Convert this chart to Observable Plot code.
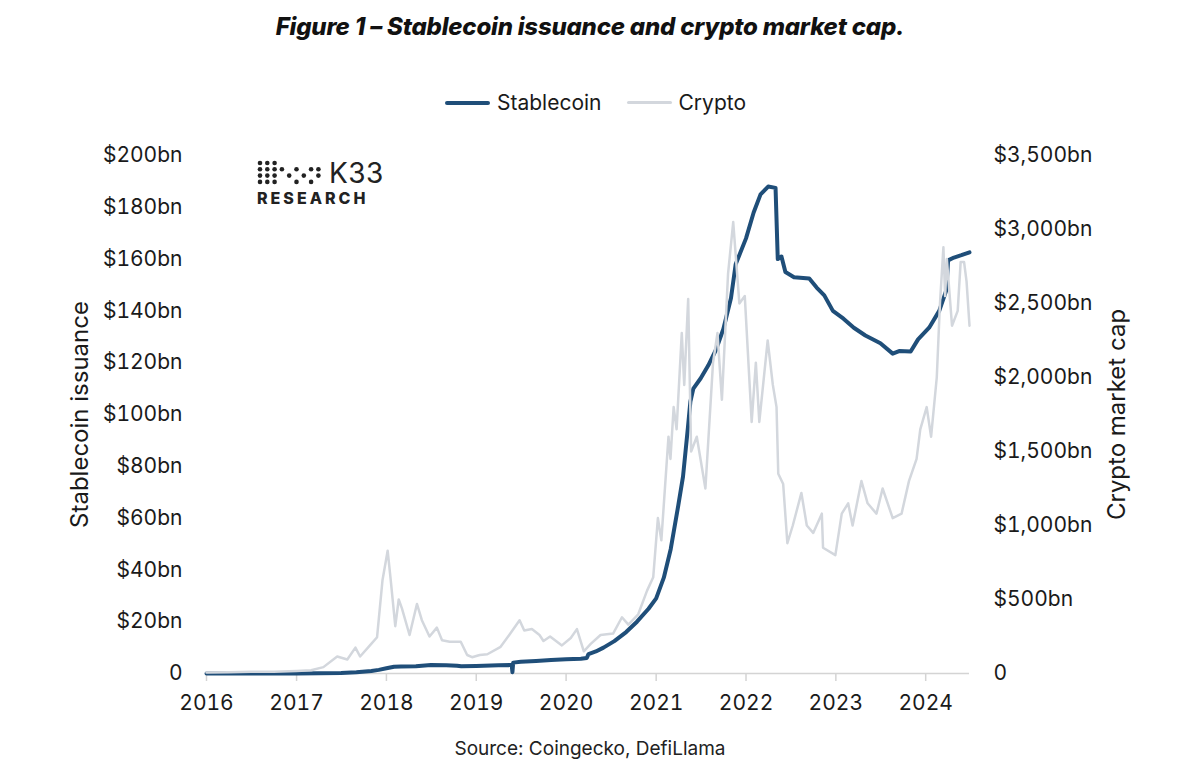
<!DOCTYPE html>
<html>
<head>
<meta charset="utf-8">
<script src="https://cdn.jsdelivr.net/npm/d3@7"></script>
<script src="https://cdn.jsdelivr.net/npm/@observablehq/plot@0.6"></script>
<style>
  html, body { margin: 0; padding: 0; background: #fff; }
  #wrap { position: relative; width: 1200px; height: 772px; font-family: Inter, "Open Sans", sans-serif; color: #1a1a1a; overflow: hidden; }
  #title { position: absolute; top: 12px; left: 0; width: 1180px; text-align: center; font-weight: 800; font-style: italic; font-size: 24px; letter-spacing: -0.2px; color: #111; }
  #legend { position: absolute; top: 90px; left: 445px; display: flex; align-items: center; font-size: 21px; }
  .sw { display: inline-block; width: 45px; margin-right: 7px; border-radius: 2px; }
  #chart { position: absolute; top: 130px; left: 0; }
  #source { position: absolute; top: 737px; left: 0; width: 1180px; text-align: center; font-size: 19px; color: #222; }
  #logo { position: absolute; top: 160px; left: 257px; }
  #logo .k33 { position: absolute; left: 72px; top: -4px; font-size: 28px; font-weight: 400; letter-spacing: 0.5px; color: #222; }
  #logo .res { position: absolute; left: 0; top: 28px; font-size: 16px; font-weight: 800; letter-spacing: 3px; color: #222; white-space: nowrap; }
</style>
</head>
<body>
<div id="wrap">
  <div id="title">Figure 1 – Stablecoin issuance and crypto market cap.</div>
  <div id="legend">
    <span class="sw" style="height:4px;background:#1f4e79"></span><span style="margin-right:25px">Stablecoin</span>
    <span class="sw" style="height:3px;background:#d3d7dd"></span><span>Crypto</span>
  </div>
  <div id="chart"></div>
  <div id="logo"><svg id="dots" width="68" height="26"></svg><span class="k33">K33</span><span class="res">RESEARCH</span></div>
  <div id="source">Source: Coingecko, DefiLlama</div>
</div>
<script>
// ---- Data (values in $bn) ----
const stableDates = [
  "2016-01-01","2016-06-01","2017-01-01","2017-04-01","2017-07-01","2017-09-01","2017-11-01","2017-12-01",
  "2018-01-01","2018-02-01","2018-03-01","2018-05-01","2018-07-01","2018-09-01","2018-10-15","2018-11-01",
  "2019-01-01","2019-04-01","2019-05-25","2019-05-28","2019-05-31","2019-07-01","2019-09-01","2019-11-01",
  "2020-01-01","2020-03-01","2020-03-25","2020-04-01","2020-05-01","2020-06-01","2020-07-15","2020-09-01",
  "2020-10-15","2020-12-01","2021-01-01","2021-02-01","2021-03-01","2021-04-01","2021-04-20","2021-05-10",
  "2021-05-20","2021-06-01","2021-07-01","2021-08-01","2021-09-01","2021-10-01","2021-11-01","2021-11-20",
  "2022-01-01","2022-02-01","2022-03-01","2022-04-01","2022-05-01","2022-05-10","2022-05-25","2022-06-10",
  "2022-07-15","2022-09-15","2022-10-15","2022-11-15","2022-12-20","2023-02-01","2023-03-15","2023-05-01",
  "2023-07-01","2023-08-20","2023-09-15","2023-11-01","2023-12-01","2024-01-15","2024-02-25","2024-03-25",
  "2024-04-01","2024-04-25","2024-05-25","2024-06-27"
];
const stableValues = [
  0.01,0.01,0.02,0.06,0.2,0.5,1.0,1.4,
  2.0,2.6,2.7,2.8,3.3,3.2,3.0,2.8,
  2.9,3.2,3.3,0.5,4.2,4.5,4.8,5.2,
  5.5,5.7,6.0,7.5,8.5,10,12.5,16,
  20,25,29,37,48,65,76,95,
  105,110,114,119,125,133,145,158,
  168,178,185,188,187.5,160,161,155,
  153,152.5,149,146,140,137,133.5,130.5,
  127.5,123.5,124.5,124.3,129,133.5,140,148,
  159.5,160.6,161.5,162.6
];
const cryptoDates = [
  "2016-01-01","2016-04-01","2016-07-01","2016-10-01","2017-01-01","2017-03-01","2017-04-20","2017-06-15",
  "2017-07-26","2017-08-28","2017-09-16","2017-10-26","2017-11-24","2017-12-16","2018-01-06","2018-01-18",
  "2018-02-06","2018-02-20","2018-03-05","2018-04-05","2018-05-05","2018-05-25","2018-06-25","2018-07-25",
  "2018-08-15","2018-09-15","2018-10-30","2018-11-25","2018-12-15","2019-01-15","2019-02-15","2019-04-10",
  "2019-05-15","2019-06-26","2019-07-15","2019-08-15","2019-09-15","2019-10-01","2019-10-28","2019-12-15",
  "2020-01-20","2020-02-14","2020-03-13","2020-04-10","2020-05-20","2020-07-10","2020-08-15","2020-09-10",
  "2020-10-20","2020-11-25","2020-12-20","2021-01-08","2021-01-22","2021-02-20","2021-02-28","2021-03-13",
  "2021-03-25","2021-04-15","2021-04-25","2021-05-11","2021-05-23","2021-06-15","2021-07-20","2021-08-20",
  "2021-09-07","2021-09-25","2021-10-20","2021-11-10","2021-12-05","2021-12-27","2022-01-24","2022-02-10",
  "2022-02-24","2022-03-30","2022-04-20","2022-05-05","2022-05-12","2022-06-01","2022-06-18","2022-07-10",
  "2022-08-14","2022-09-05","2022-10-01","2022-11-05","2022-11-10","2022-12-30","2023-01-25","2023-02-20",
  "2023-03-10","2023-04-15","2023-05-10","2023-06-15","2023-07-10","2023-08-20","2023-09-25","2023-10-25",
  "2023-11-25","2023-12-10","2024-01-05","2024-01-23","2024-02-15","2024-02-28","2024-03-13","2024-03-20",
  "2024-03-27","2024-04-17","2024-05-10","2024-05-22","2024-06-05","2024-06-15","2024-06-27"
];
const cryptoValues = [
  7,8,12,12,17,22,43,115,
  95,175,115,190,245,630,830,640,
  320,500,440,260,470,360,250,310,
  225,215,215,125,110,125,130,180,
  260,360,290,300,260,220,250,190,
  240,300,150,200,260,270,380,330,
  400,560,650,1050,900,1600,1450,1800,
  1650,2300,1950,2530,1500,1600,1250,2100,
  2300,1850,2700,3050,2500,2550,1700,2100,
  1700,2250,1950,1800,1350,1280,880,1000,
  1220,1000,950,1080,850,800,1080,1150,
  1000,1300,1150,1080,1250,1050,1080,1300,
  1450,1650,1800,1600,2000,2500,2880,2550,
  2800,2350,2450,2780,2780,2650,2350
];
const leftTicks = [0, 20, 40, 60, 80, 100, 120, 140, 160, 180, 200];
const rightTicks = [0, 500, 1000, 1500, 2000, 2500, 3000, 3500];
const yearTicks = [2016, 2017, 2018, 2019, 2020, 2021, 2022, 2023, 2024];

// ---- Build ----
const K = 3500 / 200; // crypto axis -> stablecoin axis
const stable = stableDates.map((d, i) => ({date: new Date(d), value: stableValues[i]}));
const crypto = cryptoDates.map((d, i) => ({date: new Date(d), value: cryptoValues[i]}));
const fmtL = d => d === 0 ? "0" : `$${d}bn`;
const fmtR = d => d === 0 ? "0" : `$${d3.format(",")(d)}bn`;

const chart = Plot.plot({
  width: 1200,
  height: 600,
  marginTop: 25,
  marginBottom: 57,
  marginLeft: 206,
  marginRight: 231,
  style: {fontFamily: "Inter, 'Open Sans', sans-serif", fontSize: "21px", color: "#1a1a1a", background: "transparent"},
  x: {type: "utc", domain: [new Date("2016-01-01"), new Date("2024-06-27")]},
  y: {domain: [0, 200]},
  marks: [
    Plot.ruleY([0], {stroke: "#d4d4d4", strokeWidth: 1.5}),
    Plot.axisX(yearTicks.map(y => new Date(Date.UTC(y, 0, 1))), {
      tickSize: 8, tickPadding: 14, stroke: "#d4d4d4", strokeWidth: 1.5,
      tickFormat: d3.utcFormat("%Y"), label: null, fontSize: 21
    }),
    Plot.axisY(leftTicks, {
      anchor: "left", tickSize: 0, tickPadding: 24, tickFormat: fmtL, fontSize: 21,
      label: "Stablecoin issuance", labelAnchor: "center", labelArrow: "none", labelOffset: 136
    }),
    Plot.axisY(rightTicks, {
      anchor: "right", y: d => d / K, tickSize: 0, tickPadding: 24, tickFormat: fmtR, fontSize: 21,
      label: "Crypto market cap", labelAnchor: "center", labelArrow: "none", labelOffset: 155
    }),
    Plot.line(stable, {x: "date", y: "value", stroke: "#1f4e79", strokeWidth: 4, strokeLinejoin: "round"}),
    Plot.line(crypto, {x: "date", y: d => d.value / K, stroke: "#d3d7dd", strokeWidth: 2.5, strokeLinejoin: "round"})
  ]
});
// enlarge axis titles slightly
chart.querySelectorAll("[aria-label='y-axis label'] text").forEach(t => t.setAttribute("font-size", 24));
document.getElementById("chart").appendChild(chart);

// logo dots (decoration)
const pattern = ["111000000", "111101011", "111010101", "111001010"];
const svg = d3.select("#dots");
pattern.forEach((row, r) => row.split("").forEach((c, j) => {
  if (c === "1") svg.append("circle").attr("cx", 3 + j * 7.3).attr("cy", 3 + r * 6.3).attr("r", 2.3).attr("fill", "#222");
}));
</script>
</body>
</html>
